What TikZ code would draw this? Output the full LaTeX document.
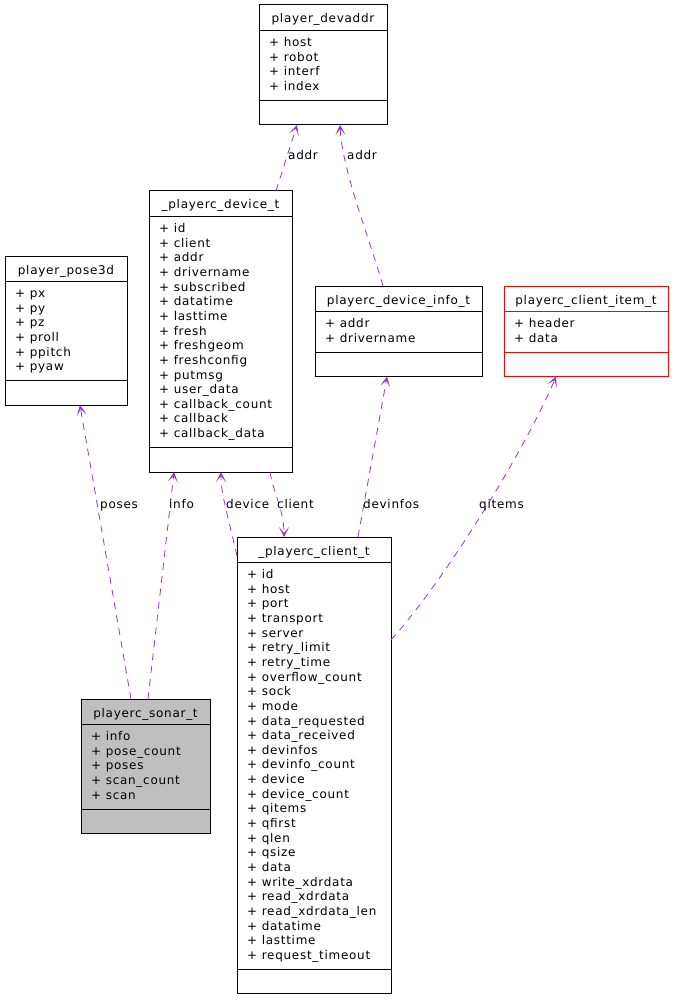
\documentclass[tikz,border=0pt]{standalone}
\usepackage{fontspec}
\newfontfamily\dfont{DejaVu Sans}[LetterSpace=6.0]
\usetikzlibrary{arrows.meta,calc}
\definecolor{edgecol}{HTML}{9A32CD}
\definecolor{sonarfill}{HTML}{BFBFBF}
\tikzset{
  classbox/.style={draw=black,line width=1pt,inner sep=0pt,outer sep=0pt},
  classline/.style={draw=black,line width=1pt},
  txt/.style={font=\dfont\fontsize{12}{14}\selectfont,inner sep=0pt,text=black},
  lbl/.style={txt,anchor=base west},
  rel/.style={draw=edgecol,line width=0.8pt,dash pattern=on 7pt off 6pt,
    -{Stealth[length=10pt,width=10pt,inset=6pt]}}
}
\newcommand{\umlclass}[8][]{%
  \pgfmathsetmacro{\ya}{#5+25.5}%
  \pgfmathsetmacro{\yb}{#5+37.5+(#7-1)*14.65+14}%
  \pgfmathsetmacro{\yc}{\yb+24.5}%
  \node[classbox,#1,minimum width={(#6-#4)*1pt},minimum height={(\yc-#5)*1pt},anchor=north west] (#2) at (#4,#5) {};
  \draw[classline,#1] (#4,\ya) -- (#6,\ya) (#4,\yb) -- (#6,\yb);
  \node[txt,anchor=base] (#2-t) at ({(#4+#6)/2},#5+18) {#3};
  \foreach \m [count=\i from 0] in {#8}{%
    \node[txt,anchor=base west] (#2-m\i) at (#4+10,{#5+41.5+\i*14.65}) {\m};}%
}
\begin{document}
\begin{tikzpicture}[x=1pt,y=-1pt]
\useasboundingbox (0,0) rectangle (672,1000);
\umlclass{addr}{player\_devaddr}{259}{5}{387}{4}{+ host,+ robot,+ interf,+ index}
\umlclass{dev}{\_playerc\_device\_t}{149}{191}{292}{15}{+ id,+ client,+ addr,+ drivername,+ subscribed,+ datatime,+ lasttime,+ fresh,+ freshgeom,+ freshconfig,+ putmsg,+ user\_data,+ callback\_count,+ callback,+ callback\_data}
\umlclass{pose}{player\_pose3d}{5}{256}{127}{6}{+ px,+ py,+ pz,+ proll,+ ppitch,+ pyaw}
\umlclass{info}{playerc\_device\_info\_t}{315}{286}{482}{2}{+ addr,+ drivername}
\umlclass[draw=red]{item}{playerc\_client\_item\_t}{504}{286}{668}{2}{+ header,+ data}
\umlclass{client}{\_playerc\_client\_t}{237}{537}{391}{27}{+ id,+ host,+ port,+ transport,+ server,+ retry\_limit,+ retry\_time,+ overflow\_count,+ sock,+ mode,+ data\_requested,+ data\_received,+ devinfos,+ devinfo\_count,+ device,+ device\_count,+ qitems,+ qfirst,+ qlen,+ qsize,+ data,+ write\_xdrdata,+ read\_xdrdata,+ read\_xdrdata\_len,+ datatime,+ lasttime,+ request\_timeout}
\umlclass[fill=sonarfill]{sonar}{playerc\_sonar\_t}{81}{699}{210}{5}{+ info,+ pose\_count,+ poses,+ scan\_count,+ scan}

% relations
\draw[rel] ($(dev.north west)+(127,0)$) -- ($(addr.south west)+(38,0)$);
\draw[rel] ($(info.north west)+(68,0)$) .. controls (370,240) and (342,170) .. ($(addr.south west)+(81,0)$);
\draw[rel] ($(sonar.north west)+(50,0)$) -- ($(pose.south west)+(75,0)$);
\draw[rel] ($(sonar.north west)+(67,0)$) -- ($(dev.south west)+(25,0)$);
\draw[rel] ($(client.north west)+(0,19)$) .. controls (229,520) and (221,495) .. ($(dev.south west)+(72,0)$);
\draw[rel] ($(dev.south west)+(121,0)$) .. controls (274,495) and (284,510) .. ($(client.north west)+(47,0)$);
\draw[rel] ($(client.north west)+(121,0)$) -- ($(info.south west)+(72,0)$);
\draw[rel] ($(client.north east)+(0,103)$) .. controls (445,580) and (525,450) .. ($(item.south west)+(52,0)$);

% labels
\node[lbl] (l1) at (288,160) {addr};
\node[lbl] (l2) at (347,160) {addr};
\node[lbl] (l3) at (100,508) {poses};
\node[lbl] (l4) at (169,508) {info};
\node[lbl] (l5) at (226,508) {device};
\node[lbl] (l6) at (277,508) {client};
\node[lbl] (l7) at (363,508) {devinfos};
\node[lbl] (l8) at (479,508) {qitems};
\end{tikzpicture}
\end{document}
